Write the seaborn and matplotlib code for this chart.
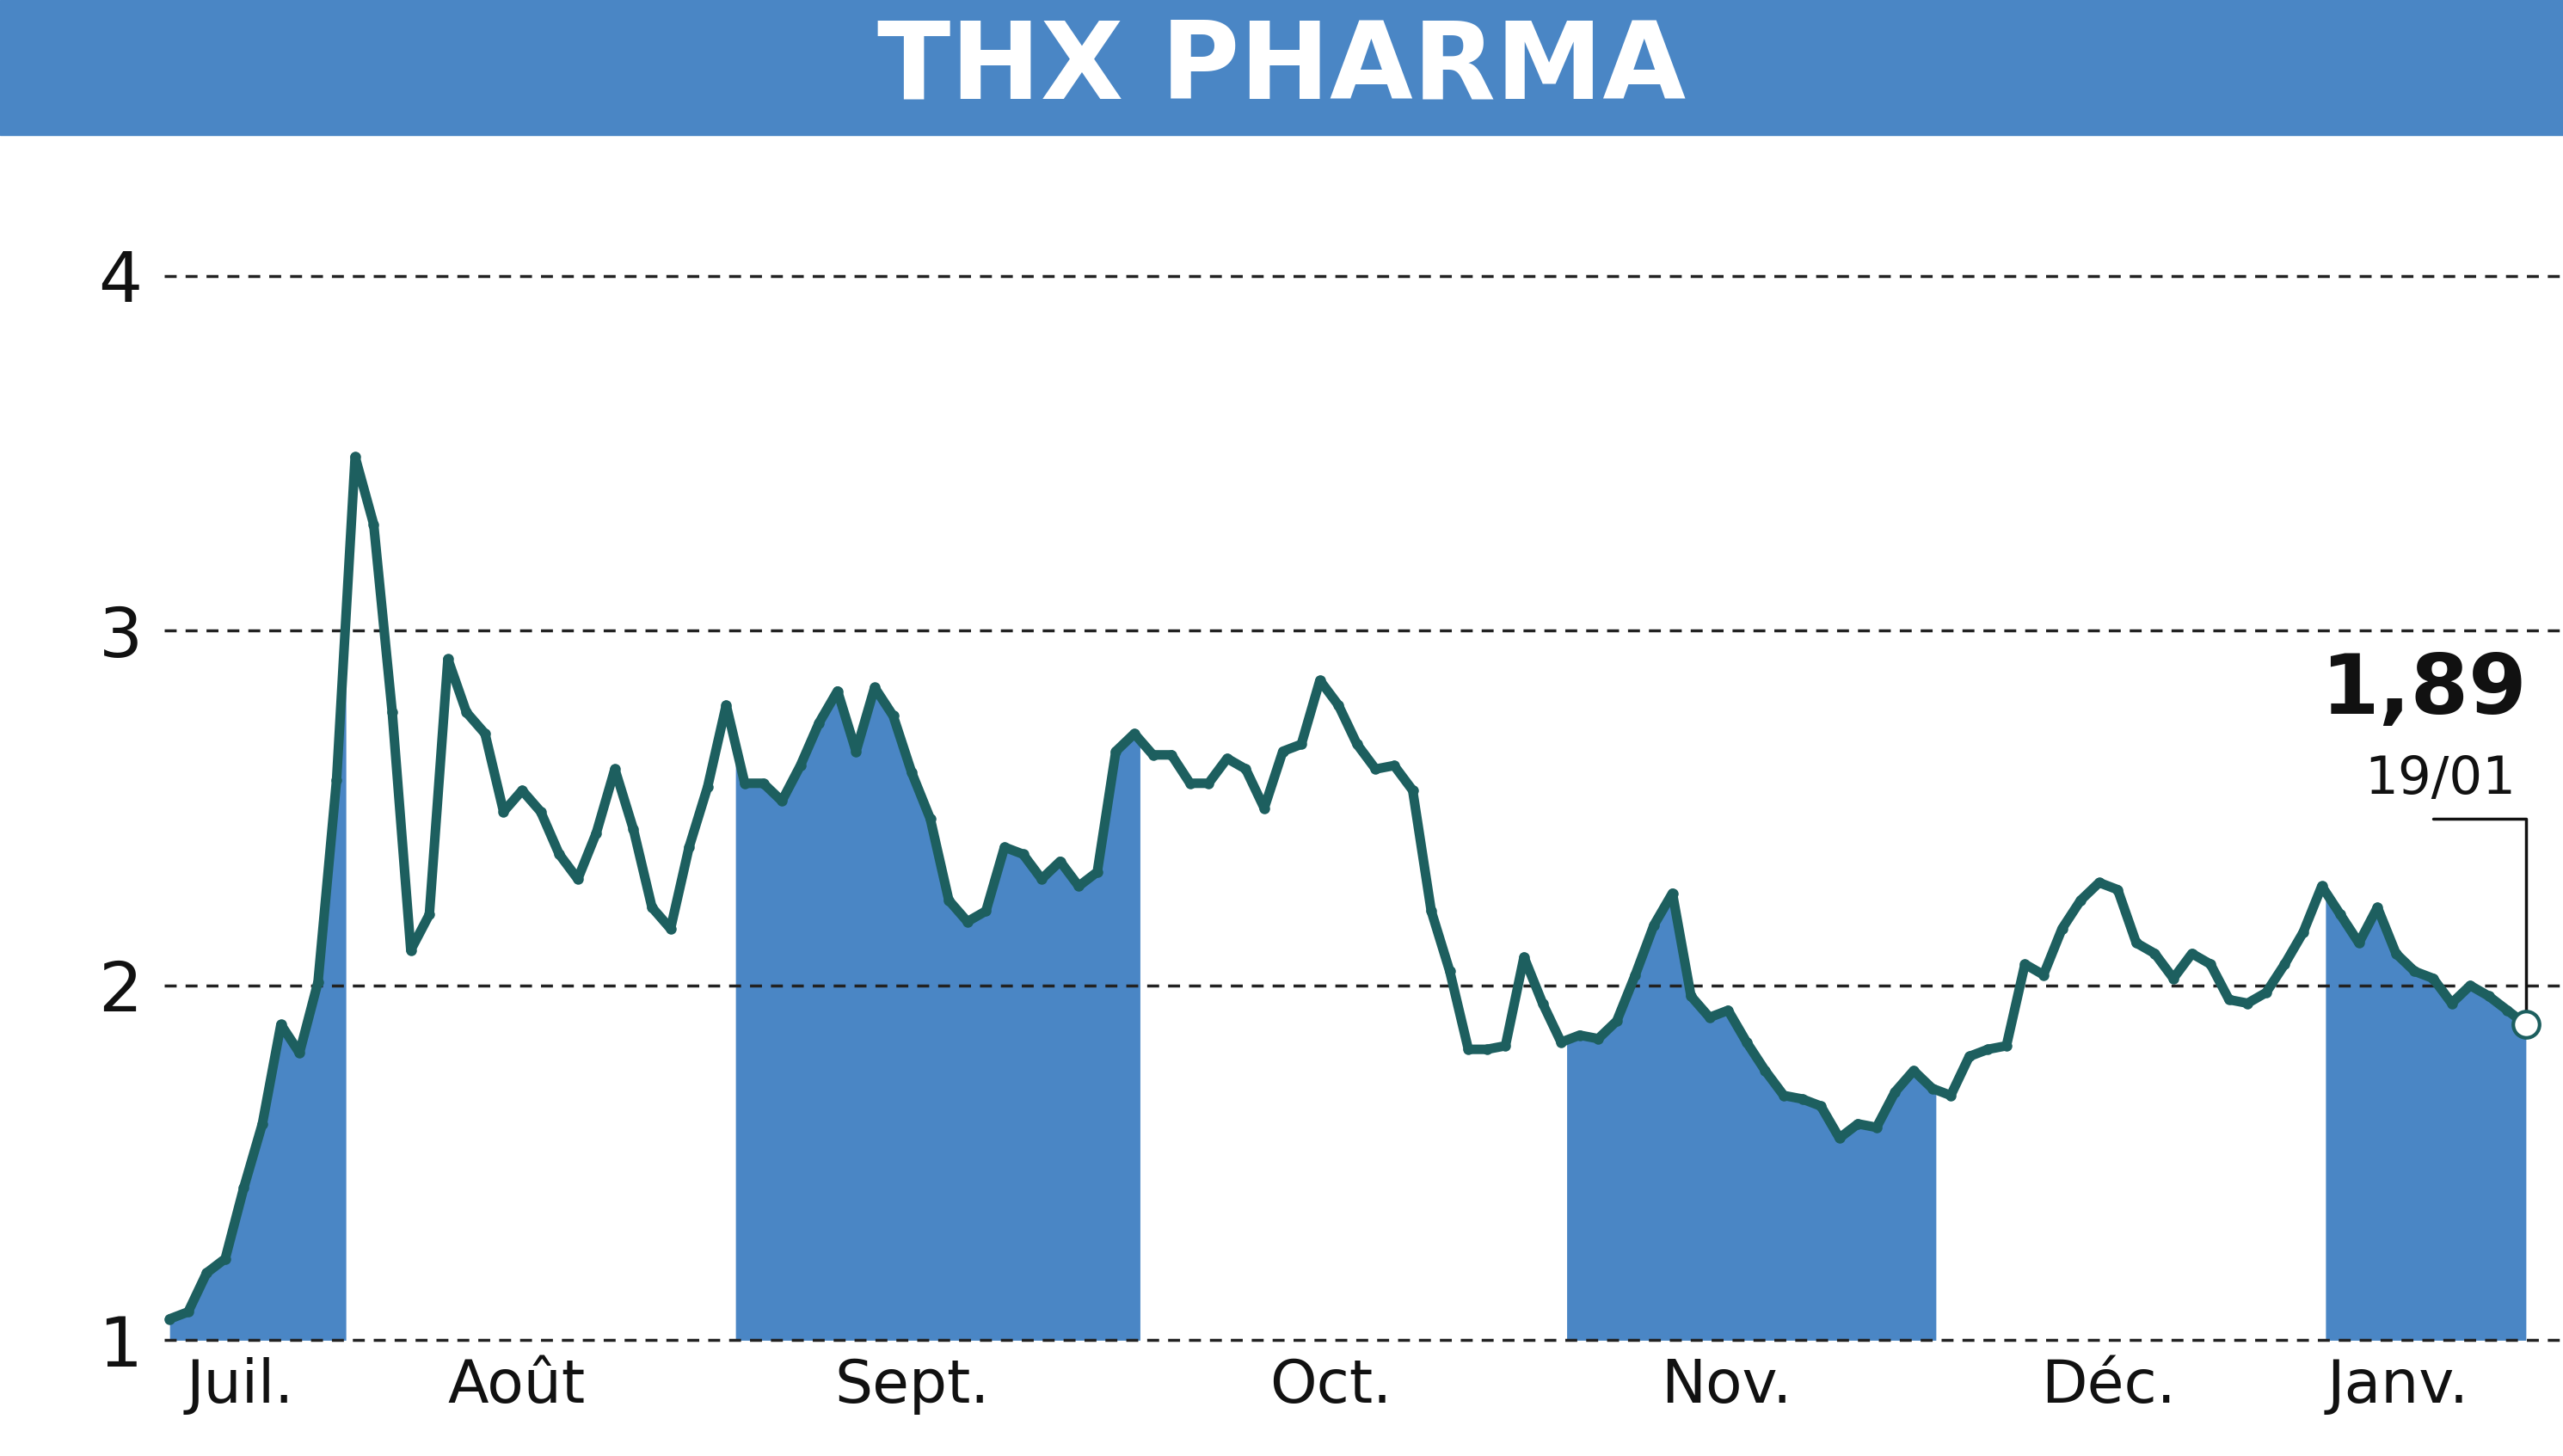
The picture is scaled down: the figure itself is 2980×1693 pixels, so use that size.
import numpy as np
import pandas as pd
import matplotlib
matplotlib.use("Agg")
import matplotlib.pyplot as plt
import seaborn as sns

prices = [1.06,1.08,1.19,1.23,1.43,1.61,1.89,1.81,2.01,2.58,3.49,3.30,2.77,2.10,2.20,2.92,2.77,2.71,2.49,2.55,
2.49,2.37,2.30,2.43,2.61,2.44,2.22,2.16,2.39,2.56,2.79,2.57,2.57,2.52,2.62,2.74,2.83,2.66,2.84,2.76,
2.60,2.47,2.24,2.18,2.21,2.39,2.37,2.30,2.35,2.28,2.32,2.66,2.71,2.65,2.65,2.57,2.57,2.64,2.61,2.50,
2.66,2.68,2.86,2.79,2.68,2.61,2.62,2.55,2.21,2.04,1.82,1.82,1.83,2.08,1.95,1.84,1.86,1.85,1.90,2.03,
2.17,2.26,1.97,1.91,1.93,1.84,1.76,1.69,1.68,1.66,1.57,1.61,1.60,1.70,1.76,1.71,1.69,1.80,1.82,1.83,
2.06,2.03,2.16,2.24,2.29,2.27,2.12,2.09,2.02,2.09,2.06,1.96,1.95,1.98,2.06,2.15,2.28,2.20,2.12,2.22,
2.09,2.04,2.02,1.95,2.00,1.97,1.93,1.89]
months = ["Juil.", "Août", "Sept.", "Oct.", "Nov.", "Déc.", "Janv."]
month_label_pos = [3.8, 18.7, 40.0, 62.6, 83.9, 104.5, 120.1]
month_bounds = [-0.001, 9.5, 30.5, 52.3, 75.3, 95.2, 116.2, 127]
yticks = [1, 2, 3, 4]
last_label = "1,89"
last_date = "19/01"
title = "THX PHARMA"

blue = "#4a86c5"
teal = "#1d5f5f"

sns.set_style("white")
plt.rcParams['font.family'] = ['DejaVu Sans']

df = pd.DataFrame({"i": np.arange(len(prices)), "p": prices})
fig = plt.figure(figsize=(29.8, 16.93), dpi=100)
fig.patches.append(plt.Rectangle((0, 0.907), 1, 0.093, transform=fig.transFigure, color=blue, zorder=0))
fig.text(0.5, 0.953, title, ha="center", va="center", color="white", fontsize=90, fontweight="bold")

ax = fig.add_axes([0.064, 0.0795, 0.936, 0.8065])
x = df["i"].values.astype(float)
y = df["p"].values
for k in range(0, 7, 2):
    a, b = month_bounds[k], month_bounds[k + 1]
    xs = np.concatenate([[a], x[(x > a) & (x < b)], [b]])
    ax.fill_between(xs, 1, np.interp(xs, x, y), color=blue, lw=0, zorder=1)
sns.lineplot(data=df, x="i", y="p", ax=ax, color=teal, lw=8, marker="o", markersize=9,
             markeredgewidth=0, zorder=3)
ax.plot(x[-1], y[-1], "o", ms=22, mfc="white", mec=teal, mew=3, zorder=5, color=teal)
ax.set_xlim(-0.3, 129.0)
ax.set_ylim(1, 4.31)
for t in yticks:
    ax.axhline(t, color="#222222", lw=2.5, ls=(0, (4, 3)), zorder=2, clip_on=False)
ax.set_yticks(yticks)
ax.set_yticklabels([str(t) for t in yticks], fontsize=58, color="#111111")
ax.set_xticks(month_label_pos)
ax.set_xticklabels(months, fontsize=50, color="#111111")
ax.tick_params(length=0, pad=14)
ax.tick_params(axis="y", pad=18)
ax.set_xlabel(""); ax.set_ylabel("")
for s in ax.spines.values():
    s.set_visible(False)
ax.annotate(last_label, (x[-1] - 5.5, 2.83), ha="center", va="center", fontsize=70, fontweight="bold", color="#111111")
ax.annotate(last_date, (x[-1] - 4.6, 2.58), ha="center", va="center", fontsize=44, color="#111111")
ax.plot([x[-1] - 5.0, x[-1], x[-1]], [2.47, 2.47, y[-1] + 0.04], color="#111111", lw=2.5, zorder=4)
fig.savefig("out.png", dpi=100)
